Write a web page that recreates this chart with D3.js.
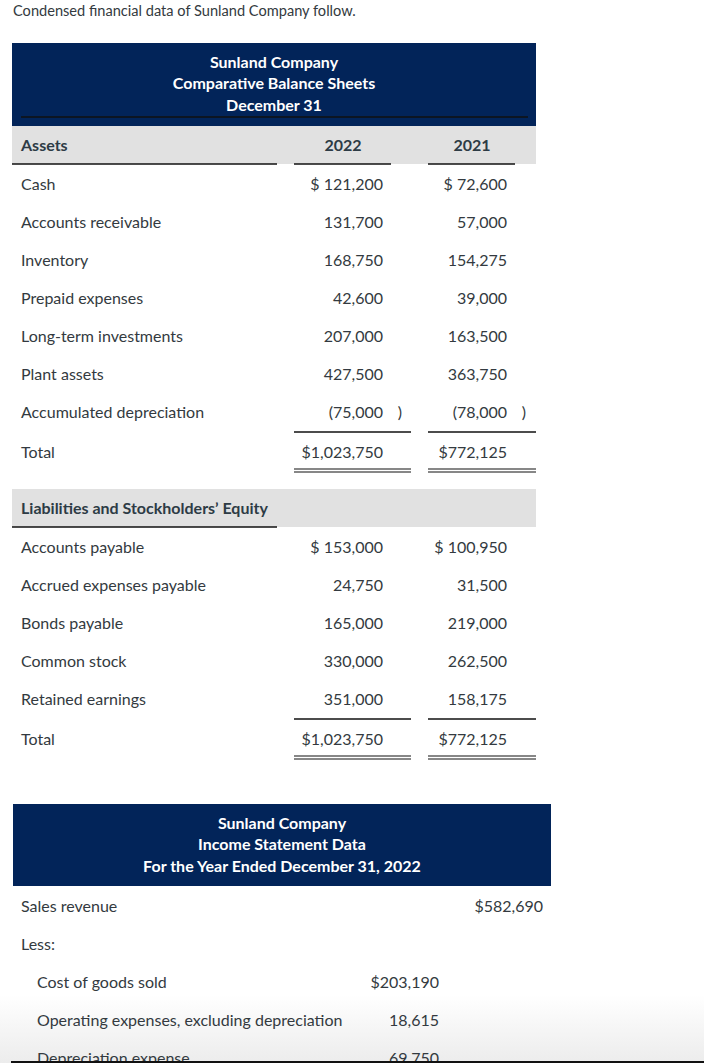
<!DOCTYPE html>
<html><head><meta charset="utf-8">
<script src="https://cdn.jsdelivr.net/npm/d3@7"></script>
<style>
html,body{margin:0;padding:0;background:#fff;}
svg{display:block;font-family:Lato,"Open Sans",sans-serif;}
</style></head>
<body>
<svg id="c" width="704" height="1063"></svg>
<script>
// ---- data ----
const introText = "Condensed financial data of Sunland Company follow.";
const bsTitle = ["Sunland Company", "Comparative Balance Sheets", "December 31"];
const years = ["2022", "2021"];
const assetLabels = ["Cash", "Accounts receivable", "Inventory", "Prepaid expenses",
  "Long-term investments", "Plant assets", "Accumulated depreciation"];
const assets2022 = [121200, 131700, 168750, 42600, 207000, 427500, -75000];
const assets2021 = [72600, 57000, 154275, 39000, 163500, 363750, -78000];
const assetTotals = [1023750, 772125];
const liabLabels = ["Accounts payable", "Accrued expenses payable", "Bonds payable",
  "Common stock", "Retained earnings"];
const liab2022 = [153000, 24750, 165000, 330000, 351000];
const liab2021 = [100950, 31500, 219000, 262500, 158175];
const liabTotals = [1023750, 772125];
const isTitle = ["Sunland Company", "Income Statement Data", "For the Year Ended December 31, 2022"];
const isLabels = ["Sales revenue", "Less:", "Cost of goods sold",
  "Operating expenses, excluding depreciation", "Depreciation expense"];
const isMiddle = [null, null, 203190, 18615, 69750];
const isRight = [582690, null, null, null, null];

// ---- drawing ----
const svg = d3.select("#c");
const NAVY = "#022459", GRAY = "#e1e1e1", TXT = "#333a40";
const fmt = d3.format(",");
const FS = 16, OFF = 5.5;

// bottom fade
const defs = svg.append("defs");
const lg = defs.append("linearGradient").attr("id","fade").attr("x1",0).attr("y1",0).attr("x2",0).attr("y2",1);
lg.append("stop").attr("offset","0%").attr("stop-color","#ffffff");
lg.append("stop").attr("offset","100%").attr("stop-color","#ececec");
svg.append("rect").attr("x",0).attr("y",995).attr("width",704).attr("height",68).attr("fill","url(#fade)");

svg.append("text").attr("x",13).attr("y",16).attr("font-size",14.6).attr("fill",TXT).text(introText);

function line(x1,x2,y,w){
  svg.append("line").attr("x1",x1).attr("x2",x2).attr("y1",y).attr("y2",y)
    .attr("stroke","#111").attr("stroke-width",w||1.5);
}
function dbl(x1,x2,y){ line(x1,x2,y,1.2); line(x1,x2,y+3,1.2); }

// Balance sheet header
svg.append("rect").attr("x",12).attr("y",43).attr("width",524).attr("height",83).attr("fill",NAVY);
const titleY = d3.scaleLinear().domain([0,2]).range([62+OFF,105+OFF]);
svg.selectAll(".bst").data(bsTitle).join("text")
  .attr("x",274).attr("y",(d,i)=>titleY(i)).attr("text-anchor","middle")
  .attr("font-size",FS).attr("font-weight",700).attr("fill","#fff").text(d=>d);
line(21,528,117,1.5);
svg.append("rect").attr("x",12).attr("y",126).attr("width",524).attr("height",38).attr("fill",GRAY);
svg.append("text").attr("x",21).attr("y",145+OFF).attr("font-size",FS).attr("font-weight",700).attr("fill","#2d3b45").text("Assets");
const colC = d3.scaleOrdinal().domain(years).range([343,472]);
svg.selectAll(".yr").data(years).join("text")
  .attr("x",d=>colC(d)).attr("y",145+OFF).attr("text-anchor","middle")
  .attr("font-size",FS).attr("font-weight",700).attr("fill","#2d3b45").text(d=>d);
line(12,277,164,1.5); line(294,391,164,1.5); line(428,515,164,1.5);

// value column right edges
const colR = d3.scaleOrdinal().domain(years).range([383,507]);
const ulX = {"2022":[294,411],"2021":[428,536]};

function valueText(v,i,isTotal){
  if (isTotal) return "$" + fmt(v);
  if (v < 0) return "(" + fmt(-v);
  return (i===0 ? "$ " : "") + fmt(v);
}
function drawBlock(labels, vals, totals, y0){
  const y = d3.scaleLinear().domain([0,1]).range([y0, y0+38]);
  const n = labels.length;
  svg.selectAll(null).data(labels).join("text")
    .attr("x",21).attr("y",(d,i)=>y(i)+OFF).attr("font-size",FS).attr("fill",TXT).text(d=>d);
  years.forEach((yr,k)=>{
    svg.selectAll(null).data(vals[k]).join("text")
      .attr("x",colR(yr)).attr("y",(d,i)=>y(i)+OFF).attr("text-anchor","end")
      .attr("font-size",FS).attr("fill",TXT).text((d,i)=>valueText(d,i,false));
    svg.selectAll(null).data(vals[k].filter(v=>v<0)).join("text")
      .attr("x",colR(yr)+19).attr("y",y(n-1)+OFF).attr("text-anchor","end")
      .attr("font-size",FS).attr("fill",TXT).text(")");
    const ty = y(n-1)+40;
    svg.append("text").attr("x",colR(yr)).attr("y",ty+OFF).attr("text-anchor","end")
      .attr("font-size",FS).attr("fill",TXT).text(valueText(totals[k],0,true));
    line(ulX[yr][0], ulX[yr][1], y(n-1)+20, 1.5);
    dbl(ulX[yr][0], ulX[yr][1], ty+17);
  });
  svg.append("text").attr("x",21).attr("y",y(n-1)+40+OFF).attr("font-size",FS).attr("fill",TXT).text("Total");
}
drawBlock(assetLabels, [assets2022, assets2021], assetTotals, 184);

// Liabilities header
svg.append("rect").attr("x",12).attr("y",489).attr("width",524).attr("height",38).attr("fill",GRAY);
svg.append("text").attr("x",21).attr("y",508+OFF).attr("font-size",FS).attr("font-weight",700).attr("fill","#2d3b45")
  .text("Liabilities and Stockholders\u2019 Equity");
line(12,277,527,1.5);
drawBlock(liabLabels, [liab2022, liab2021], liabTotals, 547);

// Income statement
svg.append("rect").attr("x",13).attr("y",804).attr("width",538).attr("height",82).attr("fill",NAVY);
const isTY = d3.scaleLinear().domain([0,2]).range([823+OFF,866+OFF]);
svg.selectAll(".ist").data(isTitle).join("text")
  .attr("x",282).attr("y",(d,i)=>isTY(i)).attr("text-anchor","middle")
  .attr("font-size",FS).attr("font-weight",700).attr("fill","#fff").text(d=>d);
const isY = d3.scaleLinear().domain([0,1]).range([906, 944]);
svg.selectAll(".isl").data(isLabels).join("text")
  .attr("x",(d,i)=>i>=2?37:21).attr("y",(d,i)=>isY(i)+OFF)
  .attr("font-size",FS).attr("fill",TXT).text(d=>d);
svg.selectAll(".ism").data(isMiddle).join("text")
  .attr("x",439).attr("y",(d,i)=>isY(i)+OFF).attr("text-anchor","end")
  .attr("font-size",FS).attr("fill",TXT).text((d,i)=>d==null?"":(i===2?"$":"")+fmt(d));
svg.selectAll(".isr").data(isRight).join("text")
  .attr("x",543).attr("y",(d,i)=>isY(i)+OFF).attr("text-anchor","end")
  .attr("font-size",FS).attr("fill",TXT).text(d=>d==null?"":"$"+fmt(d));

// bottom edge line
svg.append("rect").attr("x",11).attr("y",1061).attr("width",693).attr("height",2).attr("fill","#111");
</script>
</body></html>
